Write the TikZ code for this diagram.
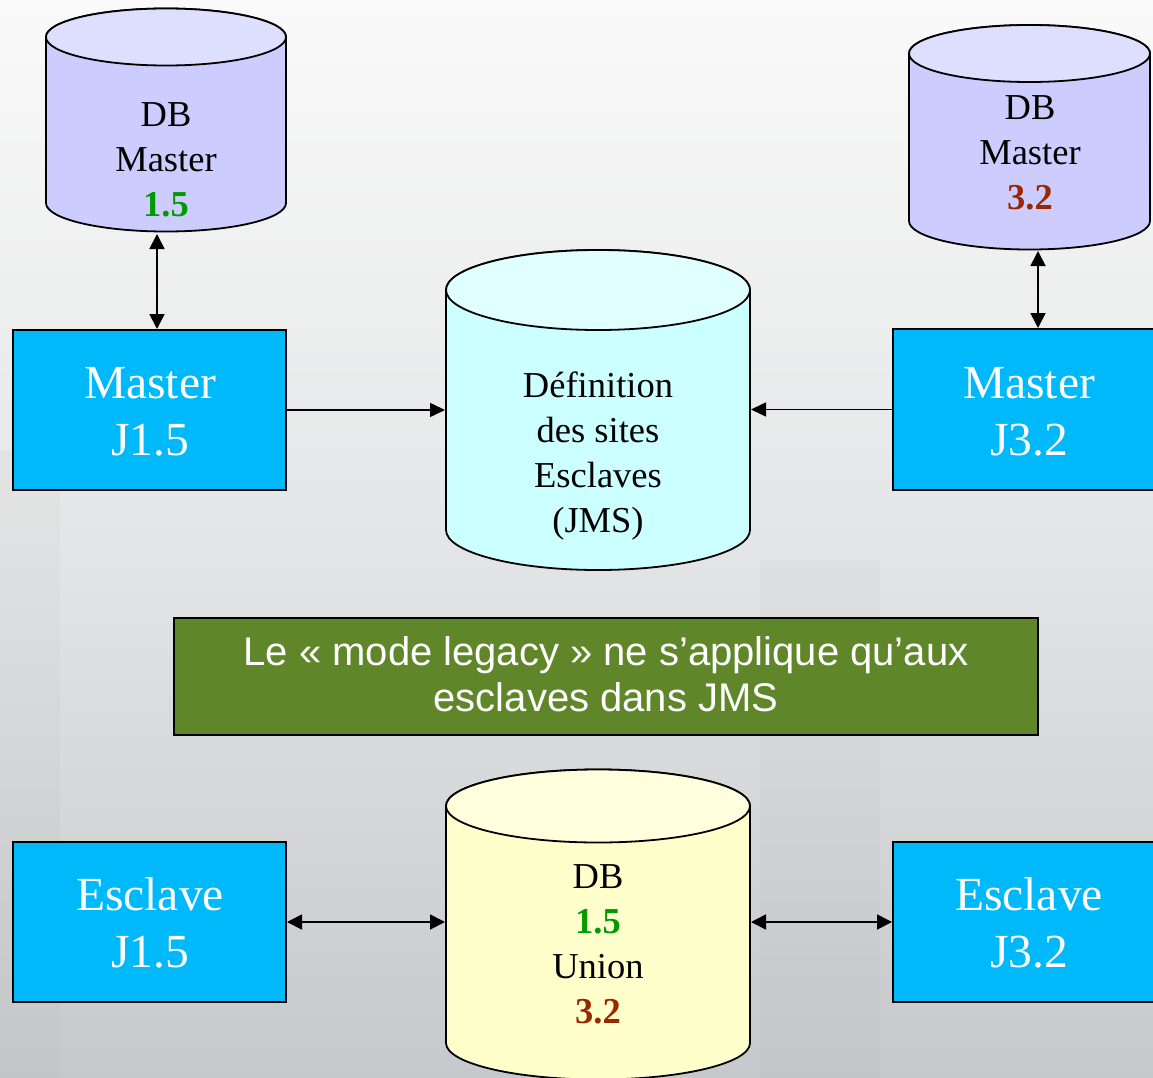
\documentclass[tikz,border=0pt]{standalone}
\usepackage{fontspec}
\setmainfont{Liberation Serif}
\newfontfamily\arialf{Liberation Sans}
\usetikzlibrary{arrows.meta}
\definecolor{boxblue}{RGB}{0,185,250}
\definecolor{dbpurple}{RGB}{204,204,255}
\definecolor{dbpurpletop}{RGB}{222,222,255}
\definecolor{dbcyan}{RGB}{204,255,255}
\definecolor{dbcyantop}{RGB}{224,255,255}
\definecolor{dbyellow}{RGB}{255,255,204}
\definecolor{dbyellowtop}{RGB}{255,255,222}
\definecolor{noteg}{RGB}{95,134,40}
\definecolor{vgreen}{RGB}{0,153,0}
\definecolor{vred}{RGB}{153,40,0}
\definecolor{bgtop}{RGB}{250,250,250}
\definecolor{bgmid}{RGB}{228,229,230}
\definecolor{bgbot}{RGB}{198,200,203}
\newcommand\dbcyl[7]{%
  \pgfmathsetmacro\cylcx{(#1+#2)/2}%
  \pgfmathsetmacro\cylrx{(#2-#1)/2}%
  \filldraw[cylline, fill=#6] (#1,-#3) -- (#1,-#4)
    arc[start angle=180, end angle=360, x radius=\cylrx pt, y radius=#5 pt]
    -- (#2,-#3)
    arc[start angle=0, end angle=180, x radius=\cylrx pt, y radius=#5 pt] -- cycle;
  \filldraw[cylline, fill=#7] (\cylcx,-#3) ellipse[x radius=\cylrx pt, y radius=#5 pt];
}
\newcommand\lines[1]{\begin{tabular}[t]{@{}c@{}}#1\end{tabular}}
\tikzset{
  cylline/.style={draw=black, line width=1.8pt},
  cylarea/.style={inner sep=0pt, outer sep=1pt},
  bluebox/.style={draw=black, line width=2pt, fill=boxblue, inner sep=0pt,
    minimum width=273pt, minimum height=160pt},
  notebox/.style={draw=black, line width=2pt, fill=noteg, inner sep=0pt,
    minimum width=864pt, minimum height=117pt},
  cyltxt/.style={inner sep=0pt, anchor=base, text=black,
    font=\fontsize{36.5}{45}\selectfont},
  boxtxt/.style={inner sep=0pt, anchor=base, text=white,
    font=\fontsize{47.5}{57}\selectfont},
  notetxt/.style={inner sep=0pt, anchor=base, text=white,
    font=\arialf\fontsize{40}{46}\selectfont},
  conn/.style={line width=1.6pt, -{Triangle[length=15pt,width=14pt]}},
  dconn/.style={line width=1.8pt,
    {Triangle[length=15pt,width=15pt]}-{Triangle[length=15pt,width=15pt]}},
}
\begin{document}
\begin{tikzpicture}[x=1pt, y=1pt]
\useasboundingbox (0,0) rectangle (1153,-1078);
\begin{scope}
\clip (0,0) rectangle (1153,-1078);
% background
\shade[top color=bgtop, bottom color=bgbot, middle color=bgmid] (0,0) rectangle (1153,-1078);
\fill[gray, opacity=0.04] (0,-450) rectangle (60,-1078);
\fill[gray, opacity=0.04] (760,-560) rectangle (880,-1078);

% cylinders
\dbcyl{46}{286}{37}{203}{28.5}{dbpurple}{dbpurpletop}
\dbcyl{909}{1150}{53.5}{221}{28.5}{dbpurple}{dbpurpletop}
\dbcyl{446}{750}{290}{530}{40}{dbcyan}{dbcyantop}
\dbcyl{446}{750}{806}{1043}{36.5}{dbyellow}{dbyellowtop}
\node[cylarea, minimum width=240pt, minimum height=224pt] (db15) at (166,-121) {};
\node[cylarea, minimum width=241pt, minimum height=225pt] (db32) at (1029.5,-137.5) {};
\node[cylarea, minimum width=304pt, minimum height=320pt] (defn) at (598,-410) {};
\node[cylarea, minimum width=304pt, minimum height=310pt] (union) at (598,-924.5) {};

% boxes
\node[bluebox] (m15) at (149.5,-410) {};
\node[bluebox, minimum height=161pt] (m32) at (1029.5,-409.5) {};
\node[bluebox] (e15) at (149.5,-922) {};
\node[bluebox] (e32) at (1029.5,-922) {};
\node[notebox] (note) at (606,-676.5) {};

% connectors
\draw[dconn] ([xshift=-9pt]db15.south) -- ([xshift=-9pt]db15.south |- m15.north);
\draw[dconn] ([xshift=8.5pt]db32.south) -- ([xshift=8.5pt]db32.south |- m32.north);
\draw[conn] (m15.east) -- (m15.east -| defn.west);
\draw[conn] (m32.west) -- (m32.west -| defn.east);
\draw[dconn] (e15.east) -- (e15.east -| union.west);
\draw[dconn] (e32.west) -- (e32.west -| union.east);

% texts
\node[cyltxt] (db15t) at (166,-127) {\lines{DB\\Master\\\textbf{\color{vgreen}1.5}}};
\node[cyltxt] (db32t) at (1030,-120) {\lines{DB\\Master\\\textbf{\color{vred}3.2}}};
\node[cyltxt] (defnt) at (598,-397) {\lines{Définition\\des sites\\Esclaves\\(JMS)}};
\node[cyltxt] (uniont) at (598,-888) {\lines{DB\\\textbf{\color{vgreen}1.5}\\Union\\\textbf{\color{vred}3.2}}};
\node[boxtxt] (m15t) at (150,-398) {\lines{Master\\J1.5}};
\node[boxtxt] (m32t) at (1029,-398) {\lines{Master\\J3.2}};
\node[boxtxt] (e15t) at (150,-910) {\lines{Esclave\\J1.5}};
\node[boxtxt] (e32t) at (1029,-910) {\lines{Esclave\\J3.2}};
\node[notetxt] (notet) at (606,-665) {\lines{Le « mode legacy » ne s’applique qu’aux\\esclaves dans JMS}};
\end{scope}
\end{tikzpicture}
\end{document}
